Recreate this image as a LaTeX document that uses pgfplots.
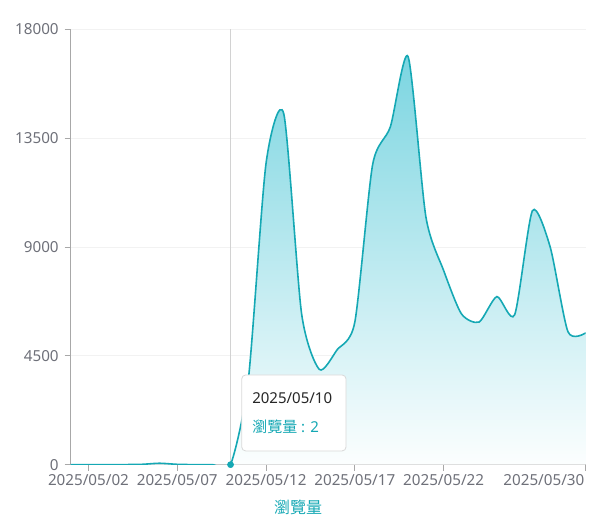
\documentclass[border=0pt]{standalone}
\usepackage{pgfplots}
\pgfplotsset{compat=1.18}
\usepackage{fontspec}
\setmainfont{Noto Sans}
\newfontfamily\cjk{Noto Sans CJK TC}
\definecolor{lineteal}{HTML}{15A8B4}
\definecolor{fillteal}{RGB}{120,212,224}
\definecolor{ticktext}{HTML}{6E7079}
\definecolor{axisgray}{HTML}{A8A8A8}
\definecolor{gridgray}{HTML}{F2F2F2}
\pgfplotstableread{
day views
1 0
2 0
3 0
4 5
5 15
6 60
7 15
8 3
9 1
10 2
11 3500
12 12460
13 14500
14 6250
15 3940
16 4750
17 5900
18 12400
19 13970
20 16870
21 10250
22 8030
23 6240
24 5900
25 6950
26 6200
27 10500
28 9000
29 5500
30 5450
}\views
\begin{document}
\begin{tikzpicture}
\path[use as bounding box] (-53.03pt,-40.73pt) rectangle (395.48pt,348.53pt);
\begin{axis}[
  at={(0,0)}, anchor=south west,
  scale only axis,
  width=386.25pt, height=326.55pt,
  xmin=1, xmax=30, ymin=0, ymax=18000,
  axis x line*=bottom, axis y line*=left,
  axis line style={axisgray, line width=0.8pt},
  xtick={2,7,12,17,22},
  xticklabels={2025/05/02,2025/05/07,2025/05/12,2025/05/17,2025/05/22},
  extra x ticks={30},
  extra x tick labels={2025/05/30},
  extra x tick style={xticklabel style={anchor=north east, xshift=2.5pt}},
  ytick={0,4500,9000,13500,18000},
  scaled y ticks=false,
  /pgf/number format/fixed,
  /pgf/number format/1000 sep={},
  /pgf/number format/assume math mode=true,
  tick label style={font=\fontsize{11.4}{13}\selectfont, text=ticktext},
  xticklabel style={yshift=1pt},
  yticklabel style={xshift=-1pt},
  tick align=outside,
  major tick length=4.5pt,
  tick style={axisgray, line width=0.7pt},
  ymajorgrids,
  grid style={gridgray, line width=0.7pt},
  clip=true,
]
\addplot[gray!35, line width=0.75pt, forget plot] coordinates {(10,0) (10,18000)};
\addplot[draw=none, smooth, tension=0.42, top color=fillteal, bottom color=white, forget plot] table[x=day, y=views] {\views} \closedcycle;
\addplot[lineteal, line width=1.2pt, smooth, tension=0.42] table[x=day, y=views] {\views};
\addplot[only marks, mark=*, mark size=2.3pt, lineteal, clip=false] coordinates {(10,2)};
\end{axis}
\draw[gray!30, fill=white, rounded corners=3pt, line width=0.6pt] (128.25pt,10.3pt) rectangle (206.5pt,67.3pt);
\node[anchor=west, inner sep=0pt, text=black!85, font=\fontsize{11.25}{13}\selectfont] at (136pt,49.8pt) {2025/05/10};
\node[anchor=west, inner sep=0pt, text=lineteal, font=\fontsize{11.25}{13}\selectfont] at (136pt,28.5pt) {{\cjk 瀏覽量} : 2};
\node[anchor=center, inner sep=0pt, text=lineteal, font=\fontsize{12}{14}\selectfont\cjk] at (170.5pt,-31.7pt) {瀏覽量};
\end{tikzpicture}
\end{document}
